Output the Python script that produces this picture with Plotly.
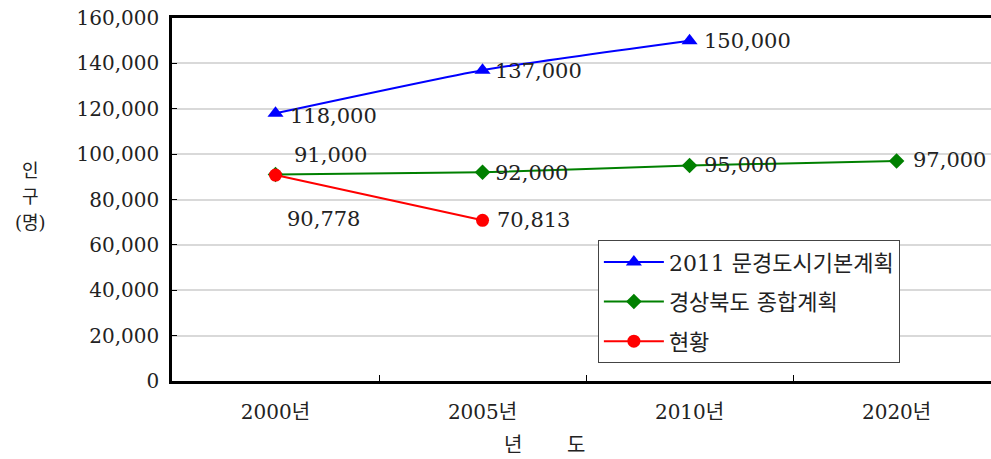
import plotly.graph_objects as go

# categories and series
years = ["2000년", "2005년", "2010년", "2020년"]
plan_2011 = [118000, 137000, 150000, None]
gyeongbuk = [91000, 92000, 95000, 97000]
current = [90778, 70813, None, None]

names = ["2011 문경도시기본계획", "경상북도 종합계획", "현황"]
y_ticks = list(range(0, 160001, 20000))
y_title = ["인", "구", "(명)"]

FONT = "DejaVu Serif, Noto Sans CJK KR, serif"
TXT = "#222222"

fig = go.Figure()

series = [
    (plan_2011, "#0000ff", "triangle-up", 14),
    (gyeongbuk, "#008000", "diamond", 12),
    (current, "#ff0000", "circle", 13),
]
for i, (vals, color, sym, size) in enumerate(series):
    fig.add_trace(go.Scatter(
        x=years, y=vals, name=names[i], legendgroup=str(i),
        mode="lines+markers",
        line=dict(color=color, width=2, shape="spline", smoothing=0.5),
        marker=dict(symbol=sym, size=size, color=color),
        connectgaps=False,
    ))

# data labels (offsets in px for each point)
label_offsets = {
    0: [(12, -3, "left"), (10, -1, "left"), (12, 0, "left")],
    1: [(16, 20, "left"), (10, -1, "left"), (12, 0, "left"), (14, 1, "left")],
    2: [(48, -44, "center"), (12, 0, "left")],
}
for i, (vals, *_rest) in enumerate(series):
    for j, v in enumerate(vals):
        if v is None:
            continue
        dx, dy, anchor = label_offsets[i][j]
        fig.add_annotation(
            x=years[j], y=v, text=f"{v:,}", showarrow=False,
            xanchor=anchor, yanchor="middle", xshift=dx, yshift=dy,
            font=dict(family=FONT, size=21, color=TXT),
        )

# axis titles
for k, t in enumerate(y_title):
    fig.add_annotation(xref="paper", yref="paper", x=-0.173, y=0.58 - k * 0.072,
                       text=t, showarrow=False, xanchor="center", yanchor="middle",
                       font=dict(family=FONT, size=18, color=TXT))
fig.add_annotation(xref="paper", yref="paper", x=0.455, y=-0.176,
                   text="년       도", showarrow=False,
                   xanchor="center", yanchor="middle",
                   font=dict(family=FONT, size=20, color=TXT))

fig.update_xaxes(
    type="category", range=[-0.5, 3.456],
    showline=True, linecolor="black", linewidth=2.5, mirror=True,
    ticks="inside", tickson="boundaries", ticklen=6, tickcolor="black",
    showgrid=False,
    tickfont=dict(family=FONT, size=20, color=TXT),
    ticklabelstandoff=11,
)
fig.update_yaxes(
    range=[0, 160000], tickvals=y_ticks, tickformat=",d",
    showline=True, linecolor="black", linewidth=2.5,
    ticks="inside", ticklen=5, tickcolor="black",
    showgrid=True, gridcolor="#d9d9d9", gridwidth=1.5,
    zeroline=False,
    tickfont=dict(family=FONT, size=20, color=TXT),
    ticklabelstandoff=6,
)

fig.update_layout(
    width=991, height=459,
    margin=dict(l=172, r=0, t=18, b=78),
    plot_bgcolor="white", paper_bgcolor="white",
    font=dict(family=FONT, color=TXT),
    legend=dict(
        x=0.52, y=0.388, xanchor="left", yanchor="top",
        bgcolor="white", bordercolor="#444444", borderwidth=1,
        font=dict(family=FONT, size=22, color=TXT),
        tracegroupgap=8, itemwidth=60,
    ),
)

# drop the page's default body margin so the figure sits at the corner
fig.write_html("out.html", config={"displayModeBar": False},
               post_script="document.body.style.margin='0px';")
